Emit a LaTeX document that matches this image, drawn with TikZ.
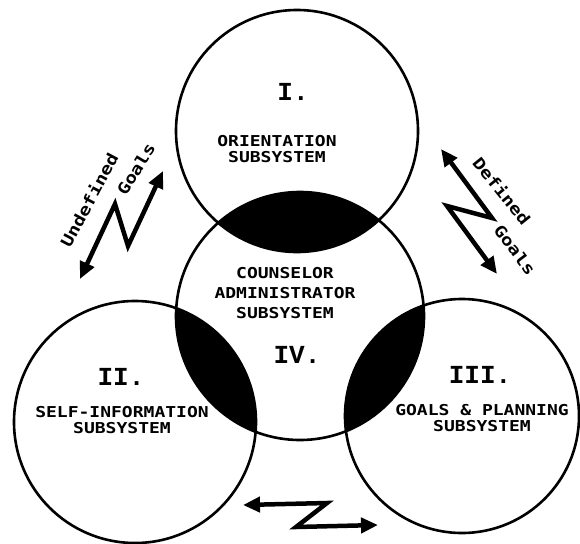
\documentclass[tikz,border=0pt]{standalone}
\usepackage{fontspec}
\usetikzlibrary{arrows.meta}
\newfontfamily\labelfont[FakeStretch=1.2]{DejaVu Sans Mono}
\newfontfamily\numfont{Liberation Mono}

\tikzset{
  ring/.style={line width=2.6pt},
  lens/.style={fill=black},
  subsys/.style={font=\labelfont\bfseries\fontsize{15}{16}\selectfont, align=center, inner sep=0pt},
  numeral/.style={font=\numfont\bfseries\fontsize{26}{26}\selectfont, inner sep=0pt},
  goaltext/.style={font=\labelfont\bfseries\fontsize{16}{16}\selectfont, inner sep=0pt},
  bolt/.style={line width=4.5pt, line join=miter,
    {Triangle[length=17pt,width=15pt]}-{Triangle[length=17pt,width=15pt]}}
}

\begin{document}
\begin{tikzpicture}[x=1pt, y=-1pt]
\useasboundingbox (0,0) rectangle (580,543);

% centres of the four subsystems (pixel coordinates, y down)
\coordinate (cI)   at (297,131);
\coordinate (cII)  at (135,422);
\coordinate (cIII) at (462,416);
\coordinate (cIV)  at (300,316);

% Shaded overlaps of IV with I, II and III
\begin{scope}
  \clip (cIV) circle (124pt);
  \fill[lens] (cI) circle (121pt);
  \fill[lens] (cII) circle (121pt);
  \fill[lens] (cIII) circle (117pt);
\end{scope}

% The four circles
\draw[ring] (cI) circle (121pt);
\draw[ring] (cIV) circle (124pt);
\draw[ring] (cII) circle (121pt);
\draw[ring] (cIII) circle (117pt);

% I. Orientation
\node[numeral] (numI) at (293,92) {I.};
\node[subsys] (labI) at (277,149) {ORIENTATION\\SUBSYSTEM};

% IV. Counselor administrator
\node[subsys, font=\labelfont\bfseries\fontsize{15}{20}\selectfont] (labIV) at (285,293)
  {COUNSELOR\\ADMINISTRATOR\\SUBSYSTEM};
\node[numeral] (numIV) at (297,355) {IV.};

% II. Self-information
\node[numeral] (numII) at (121,377) {II.};
\node[subsys] (labII) at (122,420) {SELF-INFORMATION\\SUBSYSTEM};

% III. Goals and planning
\node[numeral] (numIII) at (480,375) {III.};
\node[subsys] (labIII) at (482,418) {GOALS \& PLANNING\\SUBSYSTEM};

% Lightning arrows between the subsystems
\draw[bolt] (80,279) -- (115,204) -- (128,246) -- (163,171);
\draw[bolt] (441,149) -- (492,218) -- (447,206) -- (497,274);
\draw[bolt] (243,505) -- (327,503) -- (296,527) -- (378,525);

% Arrow labels
\node[goaltext, rotate=62] (undef) at (89,200) {Undefined};
\node[goaltext, rotate=59] (goalL) at (136,169) {Goals};
\node[goaltext, rotate=-51] (def) at (502,191) {Defined};
\node[goaltext, rotate=-53] (goalR) at (515,250) {Goals};

\end{tikzpicture}
\end{document}
